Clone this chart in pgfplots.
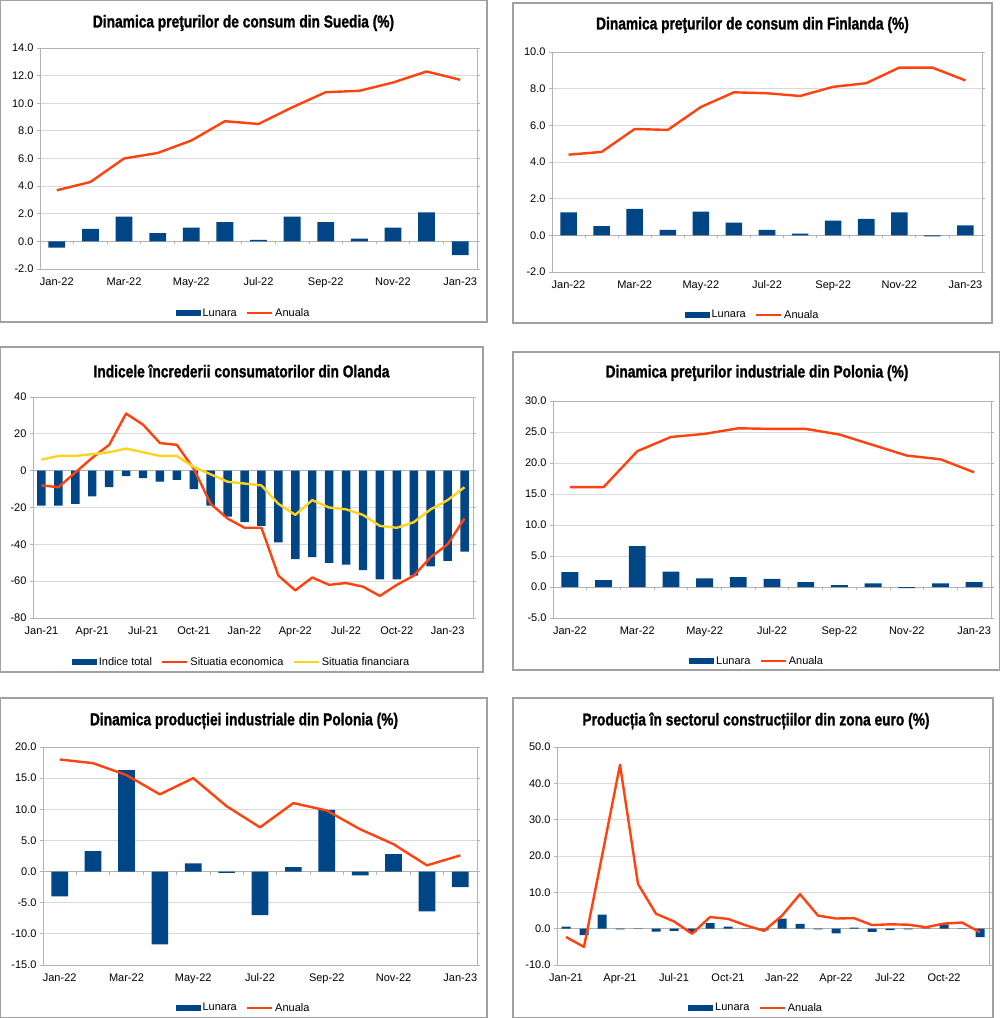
\documentclass[border=0pt]{standalone}
\usepackage{fontspec}
\setmainfont{Liberation Sans}
\newfontfamily\titlefont{Liberation Sans}[FakeStretch=0.80, FakeBold=1.2]
\usepackage{pgfplots}
\pgfplotsset{compat=1.18}

\definecolor{cbar}{HTML}{004586}
\definecolor{cline}{HTML}{FF420E}
\definecolor{cyel}{HTML}{FFD320}
\definecolor{gridgray}{HTML}{D9D9D9}
\definecolor{axisgray}{HTML}{B3B3B3}
\definecolor{framegray}{HTML}{A0A0A0}

\newcommand\tf{\fontsize{11}{13}\selectfont}
\newcommand\ttl{\titlefont\bfseries\fontsize{17.2}{20}\selectfont}

\pgfplotsset{
  panel/.style={
    scale only axis, anchor=south west, clip=false,
    xmin=-0.5,
    axis line style={draw=axisgray, line width=0.8pt},
    ymajorgrids, grid style={draw=gridgray, line width=0.8pt},
    tick align=outside, major tick length=3pt,
    ytick style={draw=axisgray, line width=0.8pt},
    xtick style={draw=none},
    tick label style={font=\tf, text=black},
    /pgf/number format/assume math mode=true,
    yticklabel style={/pgf/number format/fixed, /pgf/number format/fixed zerofill,
      /pgf/number format/precision=1},
    xticklabel style={yshift=-2pt},
    extra y ticks={0}, extra y tick labels={},
    extra y tick style={grid style={draw=axisgray, line width=0.8pt}, major tick length=0pt},
    legend columns=-1,
    legend style={draw=none, fill=none, font=\tf, anchor=center, inner sep=0pt,
      /tikz/every even column/.append style={column sep=7pt}},
  },
  barplot/.style={ybar, bar width=0.5, fill=cbar, draw=none,
    legend image code/.code={\fill[cbar] (0pt,-3pt) rectangle (25pt,3pt);}},
  lineplot/.style={sharp plot, color=#1, line width=2.4pt, line join=round, mark=none,
    legend image code/.code={\draw[#1, line width=2.4pt] (0pt,0pt) -- (25pt,0pt);}},
}

\begin{document}
\begin{tikzpicture}
\path[use as bounding box] (0,0) rectangle (1000pt,-1018pt);

% panel frames
\draw[framegray, line width=1.2pt] (0.6pt,-0.6pt) rectangle (487pt,-322pt);
\draw[framegray, line width=1.2pt] (513pt,-3pt) rectangle (992pt,-323pt);
\draw[framegray, line width=1.2pt] (0.6pt,-347pt) rectangle (483pt,-672pt);
\draw[framegray, line width=1.2pt] (513pt,-352pt) rectangle (999.4pt,-670pt);
\draw[framegray, line width=1.2pt] (0.6pt,-698pt) rectangle (487pt,-1017.4pt);
\draw[framegray, line width=1.2pt] (513pt,-698pt) rectangle (993pt,-1017.4pt);

% titles
\node[font=\ttl] at (243.5pt,-23pt) {Dinamica preţurilor de consum din Suedia (\%)};
\node[font=\ttl] at (752.5pt,-25pt) {Dinamica preţurilor de consum din Finlanda (\%)};
\node[font=\ttl] at (241.5pt,-371pt) {Indicele încrederii consumatorilor din Olanda};
\node[font=\ttl] at (757pt,-373pt) {Dinamica preţurilor industriale din Polonia (\%)};
\node[font=\ttl] at (244pt,-721pt) {Dinamica producției industriale din Polonia (\%)};
\node[font=\ttl] at (756pt,-721pt) {Producția în sectorul construcțiilor din zona euro (\%)};

% 1 Suedia
\begin{axis}[panel, at={(40pt,-269pt)}, width=437pt, height=221pt,
  xmax=12.5, ymin=-2, ymax=14, ytick={-2,0,...,14},
  xtick={0,2,...,12}, xticklabels={Jan-22,Mar-22,May-22,Jul-22,Sep-22,Nov-22,Jan-23},
  legend style={at={(0.4657,-0.199)}}]
\addplot[barplot] coordinates {(0,-0.45) (1,0.9) (2,1.8) (3,0.6) (4,1.0) (5,1.4) (6,0.1)
  (7,1.8) (8,1.4) (9,0.2) (10,1.0) (11,2.1) (12,-1.0)};
\addplot[lineplot=cline] coordinates {(0,3.7) (1,4.3) (2,6.0) (3,6.4) (4,7.3) (5,8.7) (6,8.5)
  (7,9.7) (8,10.8) (9,10.9) (10,11.5) (11,12.3) (12,11.7)};
\legend{Lunara,Anuala}
\pgfplotsinvokeforeach{0.5,1.5,...,11.5}{\draw[axisgray, line width=0.8pt] (axis cs:#1,0) -- ++(0pt,-3pt);}
\end{axis}

% 2 Finlanda
\begin{axis}[panel, at={(552pt,-272pt)}, width=430pt, height=220pt,
  xmax=12.5, ymin=-2, ymax=10, ytick={-2,0,...,10},
  xtick={0,2,...,12}, xticklabels={Jan-22,Mar-22,May-22,Jul-22,Sep-22,Nov-22,Jan-23},
  legend style={at={(0.4663,-0.195)}}]
\addplot[barplot] coordinates {(0,1.25) (1,0.5) (2,1.45) (3,0.3) (4,1.3) (5,0.7) (6,0.3)
  (7,0.1) (8,0.8) (9,0.9) (10,1.25) (11,-0.05) (12,0.55)};
\addplot[lineplot=cline] coordinates {(0,4.4) (1,4.55) (2,5.8) (3,5.75) (4,7.0) (5,7.8) (6,7.75)
  (7,7.6) (8,8.1) (9,8.3) (10,9.15) (11,9.15) (12,8.45)};
\legend{Lunara,Anuala}
\pgfplotsinvokeforeach{0.5,1.5,...,11.5}{\draw[axisgray, line width=0.8pt] (axis cs:#1,0) -- ++(0pt,-3pt);}
\end{axis}

% 3 Olanda
\begin{axis}[panel, at={(33pt,-618pt)}, width=440pt, height=221pt,
  xmax=25.5, ymin=-80, ymax=40, ytick={-80,-60,...,40},
  yticklabel style={/pgf/number format/precision=0},
  xtick={0,3,...,24}, xticklabels={Jan-21,Apr-21,Jul-21,Oct-21,Jan-22,Apr-22,Jul-22,Oct-22,Jan-23},
  legend style={at={(0.474,-0.199)}}]
\addplot[barplot] coordinates {(0,-19) (1,-19) (2,-18) (3,-14) (4,-9) (5,-3) (6,-4) (7,-6)
  (8,-5) (9,-10) (10,-19) (11,-25) (12,-28) (13,-30) (14,-39) (15,-48) (16,-47) (17,-50)
  (18,-51) (19,-54) (20,-59) (21,-59) (22,-57) (23,-52) (24,-49) (25,-44)};
\addplot[lineplot=cline] coordinates {(0,-8) (1,-9) (2,-1) (3,7) (4,14) (5,31) (6,25) (7,15)
  (8,14) (9,1) (10,-18) (11,-26) (12,-31) (13,-31) (14,-57) (15,-65) (16,-58) (17,-62)
  (18,-61) (19,-63) (20,-68) (21,-62) (22,-57) (23,-47) (24,-40) (25,-26)};
\addplot[lineplot=cyel] coordinates {(0,6) (1,8) (2,8) (3,9) (4,10) (5,12) (6,10) (7,8)
  (8,8) (9,2) (10,-2) (11,-6) (12,-7) (13,-8) (14,-18) (15,-24) (16,-16) (17,-20)
  (18,-21) (19,-24) (20,-30) (21,-31) (22,-28) (23,-21) (24,-16) (25,-9)};
\legend{Indice total,Situatia economica,Situatia financiara}
\end{axis}

% 4 Polonia preturi industriale
\begin{axis}[panel, at={(553pt,-618pt)}, width=438pt, height=217pt,
  xmax=12.5, ymin=-5, ymax=30, ytick={-5,0,...,30},
  xtick={0,2,...,12}, xticklabels={Jan-22,Mar-22,May-22,Jul-22,Sep-22,Nov-22,Jan-23},
  legend style={at={(0.466,-0.198)}}]
\addplot[barplot] coordinates {(0,2.4) (1,1.1) (2,6.6) (3,2.5) (4,1.4) (5,1.6) (6,1.3)
  (7,0.8) (8,0.3) (9,0.6) (10,-0.2) (11,0.6) (12,0.8)};
\addplot[lineplot=cline] coordinates {(0,16.1) (1,16.1) (2,21.9) (3,24.2) (4,24.7) (5,25.6)
  (6,25.5) (7,25.5) (8,24.6) (9,22.9) (10,21.2) (11,20.6) (12,18.5)};
\legend{Lunara,Anuala}
\pgfplotsinvokeforeach{0.5,1.5,...,11.5}{\draw[axisgray, line width=0.8pt] (axis cs:#1,0) -- ++(0pt,-3pt);}
\end{axis}

% 5 Polonia productie industriala
\begin{axis}[panel, at={(43pt,-965pt)}, width=434pt, height=218pt,
  xmax=12.5, ymin=-15, ymax=20, ytick={-15,-10,...,20},
  xtick={0,2,...,12}, xticklabels={Jan-22,Mar-22,May-22,Jul-22,Sep-22,Nov-22,Jan-23},
  legend style={at={(0.462,-0.197)}}]
\addplot[barplot] coordinates {(0,-4.0) (1,3.3) (2,16.3) (3,-11.7) (4,1.3) (5,-0.2) (6,-7.0)
  (7,0.7) (8,9.9) (9,-0.6) (10,2.8) (11,-6.4) (12,-2.5)};
\addplot[lineplot=cline] coordinates {(0,18.0) (1,17.4) (2,15.5) (3,12.4) (4,15.0) (5,10.5)
  (6,7.1) (7,11.0) (8,9.8) (9,6.8) (10,4.4) (11,1.0) (12,2.6)};
\legend{Lunara,Anuala}
\pgfplotsinvokeforeach{0.5,1.5,...,11.5}{\draw[axisgray, line width=0.8pt] (axis cs:#1,0) -- ++(0pt,-3pt);}
\end{axis}

% 6 zona euro constructii
\begin{axis}[panel, at={(557pt,-965pt)}, width=432pt, height=218pt,
  xmax=23.5, ymin=-10, ymax=50, ytick={-10,0,...,50},
  xtick={0,3,...,21}, xticklabels={Jan-21,Apr-21,Jul-21,Oct-21,Jan-22,Apr-22,Jul-22,Oct-22},
  legend style={at={(0.461,-0.197)}}]
\addplot[barplot] coordinates {(0,0.6) (1,-1.8) (2,3.9) (3,-0.2) (4,0.1) (5,-0.8) (6,-0.6)
  (7,-1.0) (8,1.5) (9,0.6) (10,0.1) (11,-0.5) (12,2.8) (13,1.3) (14,-0.2) (15,-1.3)
  (16,0.3) (17,-0.9) (18,-0.4) (19,-0.2) (20,0.1) (21,1.2) (22,0.1) (23,-2.3)};
\addplot[lineplot=cline] coordinates {(0,-2.3) (1,-5.0) (2,20.0) (3,45.1) (4,12.3) (5,4.1)
  (6,2.0) (7,-1.4) (8,3.2) (9,2.7) (10,0.9) (11,-0.6) (12,3.6) (13,9.5) (14,3.6) (15,2.8)
  (16,2.9) (17,1.0) (18,1.2) (19,1.1) (20,0.4) (21,1.4) (22,1.7) (23,-1.0)};
\legend{Lunara,Anuala}
\end{axis}
\end{tikzpicture}
\end{document}
